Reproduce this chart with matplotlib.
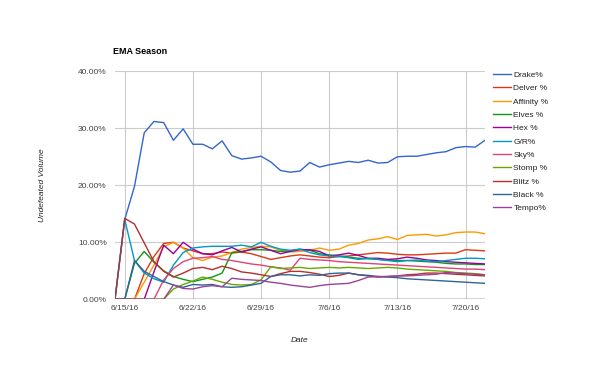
import numpy as np
import pandas as pd
import matplotlib
matplotlib.use("Agg")
import matplotlib.pyplot as plt
import matplotlib.dates as mdates

dates = pd.date_range("2016-06-14", "2016-07-22", freq="D")

drake = [0, 14.0, 19.8, 29.2, 31.2, 31.0, 27.9, 29.9, 27.2, 27.2, 26.4, 27.8, 25.2, 24.6, 24.8, 25.1,
         24.1, 22.6, 22.3, 22.5, 24.0, 23.2, 23.6, 23.9, 24.2, 24.0, 24.4, 23.9, 24.0, 25.0, 25.1, 25.1,
         25.4, 25.7, 25.9, 26.6, 26.8, 26.7, 27.9]
delver = [0, 0, 0, 4.5, 7.5, 9.8, 10.0, 9.0, 8.5, 8.0, 8.0, 8.3, 8.1, 8.3, 8.0, 7.5, 7.0, 7.3, 7.6,
          7.8, 7.6, 7.4, 7.3, 7.5, 7.6, 7.8, 8.0, 8.2, 8.1, 7.9, 7.8, 7.8, 7.9, 8.0, 8.1, 8.1, 8.7, 8.6, 8.5]
affinity = [0, 0, 0, 3.0, 6.0, 9.2, 10.0, 9.0, 7.3, 6.8, 7.4, 7.6, 8.2, 8.8, 9.1, 9.3, 9.2, 8.6, 8.3,
            8.4, 8.6, 9.0, 8.6, 8.8, 9.5, 9.8, 10.4, 10.6, 11.0, 10.5, 11.2, 11.3, 11.4, 11.1, 11.3,
            11.7, 11.8, 11.8, 11.5]
elves = [0, 0, 6.3, 8.4, 6.5, 5.0, 4.0, 3.5, 3.1, 3.5, 3.9, 4.6, 8.2, 8.4, 8.7, 8.7, 8.6, 8.4, 8.5,
         8.8, 8.6, 8.0, 7.8, 7.6, 7.4, 7.2, 7.1, 7.0, 6.9, 6.8, 6.8, 6.7, 6.6, 6.5, 6.3, 6.2, 6.2, 6.1, 6.1]
hex_ = [0, 0, 0, 0, 4.8, 9.5, 8.0, 10.0, 8.8, 8.0, 7.8, 8.5, 9.1, 8.3, 8.8, 9.2, 8.6, 8.0, 8.4, 8.7,
        8.7, 8.4, 7.6, 7.8, 8.1, 7.7, 7.2, 7.2, 7.0, 7.1, 7.4, 7.2, 6.9, 6.8, 6.6, 6.5, 6.4, 6.3, 6.2]
gr = [0, 14.0, 6.8, 4.6, 3.6, 3.0, 6.0, 8.2, 9.0, 9.2, 9.3, 9.3, 9.3, 9.5, 9.2, 10.0, 9.3, 8.8, 8.6,
      8.8, 8.2, 7.8, 7.6, 7.5, 7.3, 7.0, 7.2, 7.0, 6.8, 6.6, 6.8, 6.9, 6.7, 6.6, 6.8, 7.0, 7.2, 7.2, 7.1]
sky = [0, 0, 0, 0, 0, 3.4, 5.4, 6.6, 7.2, 7.3, 7.5, 7.0, 6.8, 6.5, 6.2, 6.0, 5.7, 5.5, 5.1, 7.2,
       7.0, 6.9, 6.8, 6.6, 6.5, 6.4, 6.3, 6.2, 6.1, 6.0, 5.9, 5.8, 5.7, 5.6, 5.5, 5.4, 5.3, 5.3, 5.2]
stomp = [0, 0, 0, 0, 0, 0, 1.8, 2.6, 3.2, 3.9, 3.5, 3.0, 2.6, 2.5, 2.6, 3.4, 5.7, 5.4, 5.5, 5.6,
         5.4, 5.5, 5.6, 5.5, 5.6, 5.5, 5.4, 5.5, 5.6, 5.5, 5.3, 5.2, 5.1, 5.0, 4.9, 4.7, 4.6, 4.5, 4.3]
blitz = [0, 14.2, 13.2, 9.9, 6.6, 4.9, 3.9, 4.6, 5.4, 5.6, 5.2, 5.8, 5.4, 4.8, 4.6, 4.3, 4.0, 4.5,
         4.9, 4.9, 4.7, 4.4, 4.0, 4.2, 4.6, 4.3, 4.1, 3.9, 4.0, 4.1, 4.3, 4.4, 4.6, 4.6, 4.5, 4.4, 4.3,
         4.2, 4.1]
black = [0, 0, 6.8, 4.9, 4.0, 3.1, 2.5, 2.1, 2.6, 2.5, 2.6, 2.2, 2.1, 2.2, 2.5, 2.8, 4.0, 4.3, 4.3,
         4.1, 4.3, 4.2, 4.5, 4.6, 4.6, 4.3, 4.2, 4.0, 3.9, 3.8, 3.6, 3.5, 3.4, 3.3, 3.2, 3.1, 3.0, 2.9, 2.8]
tempo = [0, 0, 0, 0, 0, 0, 2.5, 1.9, 1.8, 2.2, 2.4, 2.2, 3.7, 3.5, 3.4, 3.3, 3.0, 2.8, 2.5, 2.3,
         2.1, 2.4, 2.6, 2.7, 2.8, 3.3, 3.9, 4.0, 4.0, 4.1, 4.1, 4.2, 4.3, 4.4, 4.7, 4.6, 4.5, 4.4, 4.3]

names = ["Drake%", "Delver %", "Affinity %", "Elves %", "Hex %", "G/R%", "Sky%", "Stomp %",
         "Blitz %", "Black %", "Tempo%"]
series = [drake, delver, affinity, elves, hex_, gr, sky, stomp, blitz, black, tempo]
colors = ["#3366cc", "#dc3912", "#ff9900", "#109618", "#990099", "#0099c6", "#dd4477",
          "#66aa00", "#b82e2e", "#316395", "#994499"]

yticks = [0, 10, 20, 30, 40]
xtick_dates = pd.to_datetime(["2016-06-15", "2016-06-22", "2016-06-29", "2016-07-06",
                              "2016-07-13", "2016-07-20"])

plt.rcParams["font.family"] = ["Arial", "Liberation Sans", "DejaVu Sans"]

fig = plt.figure(figsize=(6, 3.71), dpi=100)
ax = fig.add_axes([115 / 600, 1 - 299.3 / 371, 370 / 600, 228 / 371])

for s, name, c in zip(series, names, colors):
    ax.plot(dates, s, color=c, lw=1.0, label=name)

ax.set_xlim(dates[0], dates[-1])
ax.set_ylim(0, 40)
ax.set_yticks(yticks)
ax.set_yticklabels([f"{v:.2f}%" for v in yticks])
ax.set_xticks(xtick_dates)
ax.xaxis.set_major_formatter(mdates.DateFormatter("%-m/%-d/%y"))
ax.grid(True, color="#cccccc", lw=0.8)
ax.set_axisbelow(True)
for sp in ax.spines.values():
    sp.set_visible(False)
ax.axhline(0, color="#333333", lw=1.0, zorder=1.5)
ax.tick_params(length=0, labelsize=6, colors="#444444", pad=4)
ax.tick_params(axis="y", pad=6)

ax.set_xlabel("Date", fontsize=6, style="italic", color="#222222", labelpad=18)
ax.set_ylabel("Undefeated Volume", fontsize=6, style="italic", color="#222222", labelpad=23)
fig.text(113 / 600, 1 - 52 / 371, "EMA Season", fontsize=6.5, fontweight="bold",
         color="#000000", va="center", ha="left")

fig.legend(loc="upper left", bbox_to_anchor=(493 / 600, 1 - 71 / 371), frameon=False,
           fontsize=6, handlelength=2.1, handletextpad=0.35, labelspacing=0.66,
           borderpad=0, borderaxespad=0, labelcolor="#222222")

fig.savefig("out.png", dpi=100)
